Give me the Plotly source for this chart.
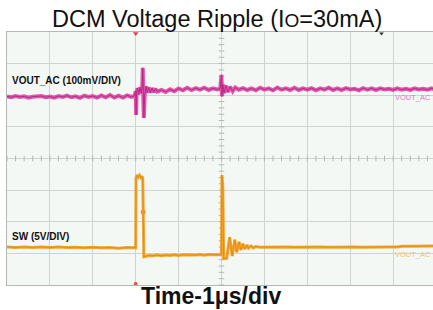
import numpy as np
import plotly.graph_objects as go

# ---------------- data ----------------
# time in microseconds (0 = trigger), VOUT ripple in mV (AC coupled)
VOUT_T = [-3.0, -2.9, -2.8, -2.7, -2.6, -2.5, -2.4, -2.3, -2.2, -2.1,
          -2.0, -1.9, -1.8, -1.7, -1.6, -1.5, -1.4, -1.3, -1.2, -1.1,
          -1.0, -0.9, -0.8, -0.7, -0.6, -0.5, -0.4, -0.3, -0.2, -0.1, -0.03,
          0.0, 0.01, 0.02, 0.04, 0.07, 0.10, 0.13, 0.155, 0.165, 0.18,
          0.19, 0.21, 0.24, 0.27, 0.30, 0.34, 0.38, 0.42, 0.46, 0.50,
          0.6, 0.7, 0.8, 0.9, 1.0, 1.1, 1.2, 1.3, 1.4, 1.5, 1.6, 1.7, 1.8, 1.9,
          1.97, 2.0, 2.01, 2.03, 2.06, 2.1, 2.15, 2.2, 2.26, 2.32,
          2.4, 2.5, 2.6, 2.7, 2.8, 2.9, 3.0, 3.1, 3.2, 3.3, 3.4, 3.5, 3.6,
          3.7, 3.8, 3.9, 4.0, 4.1, 4.2, 4.3, 4.4, 4.5, 4.6, 4.7, 4.8, 4.9,
          5.0, 5.1, 5.2, 5.3, 5.4, 5.5, 5.6, 5.7, 5.8, 5.9, 6.0, 6.1, 6.2,
          6.3, 6.4, 6.5, 6.6, 6.7, 6.8, 6.9, 6.95]
VOUT_MV = [2, -1, 3, 0, 2, -2, 1, 1, 3, -1,
           1, -2, 3, 0, 4, -1, 2, -3, 4, 0,
           3, -2, 5, -1, 6, -2, 4, -2, 5, 0, 3,
           18, -57, 10, 28, 8, 30, 12, 38, 92, -20,
           -66, 8, 34, 14, 30, 14, 28, 15, 26, 17,
           22, 16, 24, 18, 27, 21, 29, 22, 28, 23, 29, 22, 27, 24,
           26, 70, 2, 40, 12, 36, 16, 32, 18, 30,
           23, 28, 22, 27, 21, 29, 23, 27, 21, 30, 23, 27, 22,
           29, 22, 27, 23, 28, 21, 27, 23, 29, 22, 27, 22, 28,
           24, 26, 21, 28, 23, 27, 22, 27, 24, 26, 22, 27, 23,
           26, 22, 27, 24, 26, 23, 27, 25]

# switch node voltage in volts
SW_T = [-3.0, -2.8, -2.6, -2.4, -2.2, -2.0, -1.8, -1.6, -1.4, -1.2,
        -1.0, -0.8, -0.6, -0.4, -0.2, -0.02,
        0.0, 0.008, 0.03, 0.06, 0.09, 0.12, 0.15, 0.165, 0.172, 0.18, 0.19,
        0.3, 0.4, 0.5, 0.6, 0.7, 0.8, 0.9, 1.0, 1.1, 1.2, 1.3, 1.4, 1.5,
        1.6, 1.7, 1.8, 1.9, 1.98,
        2.0, 2.01, 2.03, 2.05, 2.12, 2.19, 2.25, 2.31, 2.355, 2.41, 2.45,
        2.5, 2.54, 2.595, 2.63, 2.69, 2.74, 2.8,
        2.9, 3.1, 3.3, 3.5, 3.7, 3.9, 4.1, 4.3, 4.5, 4.7, 4.9, 5.1, 5.3,
        5.5, 5.7, 5.9, 6.1, 6.2, 6.4, 6.6, 6.8, 6.95]
SW_V = [1.45, 1.35, 1.45, 1.35, 1.45, 1.35, 1.45, 1.35, 1.4, 1.3,
        1.4, 1.3, 1.35, 1.25, 1.35, 1.3,
        1.3, 12.4, 12.8, 12.5, 12.8, 12.4, 12.6, 12.2, 7.0, 0.0, -0.1,
        0.1, 0.05, 0.15, 0.05, 0.15, 0.1, 0.2, 0.1, 0.2, 0.15, 0.2, 0.15, 0.25,
        0.15, 0.25, 0.2, 0.25, 0.2,
        0.3, 12.8, 11.0, -0.4, -0.35, 3.0, 0.0, 2.6, 0.6, 2.25, 0.95,
        1.95, 1.1, 1.75, 1.25, 1.6, 1.3, 1.5,
        1.4, 1.45, 1.4, 1.45, 1.4, 1.45, 1.4, 1.45, 1.4, 1.45, 1.4, 1.45, 1.4,
        1.45, 1.4, 1.45, 1.45, 1.55, 1.55, 1.6, 1.55, 1.6]
SW_DOT_T = [0.172]
SW_DOT_V = [6.96]

# channel settings
VOUT_SCALE = 100.0   # mV / div
VOUT_POS = 1.946     # div
SW_SCALE = 5.0       # V / div
SW_POS = -3.085      # div

T_LEFT = -3.0
T_RIGHT = 6.93
Y_DIVS = 4

vy = [VOUT_POS + v / VOUT_SCALE for v in VOUT_MV]
sy = [SW_POS + v / SW_SCALE for v in SW_V]
sdy = [SW_POS + v / SW_SCALE for v in SW_DOT_V]

fig = go.Figure()

# graticule minor ticks on centre lines
tick_x = np.arange(T_LEFT, T_RIGHT, 0.2)
fig.add_trace(go.Scatter(x=tick_x, y=np.zeros_like(tick_x), mode="markers",
                         marker=dict(symbol="line-ns", size=4,
                                     line=dict(width=1, color="#b4b8b4")),
                         hoverinfo="skip", showlegend=False))
tick_y = np.arange(-Y_DIVS, Y_DIVS + 0.01, 0.2)
fig.add_trace(go.Scatter(x=np.full_like(tick_y, 2.0), y=tick_y, mode="markers",
                         marker=dict(symbol="line-ew", size=4,
                                     line=dict(width=1, color="#b4b8b4")),
                         hoverinfo="skip", showlegend=False))

# traces
fig.add_trace(go.Scatter(x=VOUT_T, y=vy, mode="lines",
                         line=dict(color="#e456ae", width=4),
                         hoverinfo="skip", showlegend=False))
fig.add_trace(go.Scatter(x=VOUT_T, y=vy, mode="lines",
                         line=dict(color="#b52a84", width=1),
                         hoverinfo="skip", showlegend=False))
fig.add_trace(go.Scatter(x=SW_T, y=sy, mode="lines",
                         line=dict(color="#f2a530", width=3),
                         hoverinfo="skip", showlegend=False))
fig.add_trace(go.Scatter(x=SW_T, y=sy, mode="lines",
                         line=dict(color="#d98a14", width=0.8),
                         hoverinfo="skip", showlegend=False))
fig.add_trace(go.Scatter(x=SW_DOT_T, y=sdy, mode="markers",
                         marker=dict(color="#f0962a", size=5),
                         hoverinfo="skip", showlegend=False))

# scope UI markers (trigger position)
fig.add_trace(go.Scatter(x=[0.0], y=[Y_DIVS - 0.05], mode="markers",
                         marker=dict(symbol="triangle-down", color="#e0405a", size=5),
                         cliponaxis=False, hoverinfo="skip", showlegend=False))
fig.add_trace(go.Scatter(x=[0.0], y=[-Y_DIVS + 0.03], mode="markers",
                         marker=dict(symbol="circle", color="#e8503a", size=4),
                         cliponaxis=False, hoverinfo="skip", showlegend=False))
fig.add_trace(go.Scatter(x=[5.73], y=[Y_DIVS - 0.05], mode="markers",
                         marker=dict(symbol="triangle-down", color="#303030", size=4),
                         cliponaxis=False, hoverinfo="skip", showlegend=False))

FONT = "Liberation Sans, Arial, sans-serif"

annotations = [
    dict(text="DCM Voltage Ripple (I<span style='font-size:19px'>O</span>=30mA)",
         x=0.492, y=1.051, xref="paper", yref="paper", showarrow=False,
         xanchor="center", yanchor="middle",
         font=dict(family=FONT, size=23.5, color="#111111")),
    dict(text="<b>Time-1\u03bcs/div</b>",
         x=0.478, y=-0.042, xref="paper", yref="paper", showarrow=False,
         xanchor="center", yanchor="middle",
         font=dict(family=FONT, size=23, color="#111111")),
    dict(text="<b>VOUT_AC (100mV/DIV)</b>", x=T_LEFT + 0.08, y=(158.5 - 80.5) / 31.625,
         xref="x", yref="y", showarrow=False, xanchor="left", yanchor="middle",
         font=dict(family=FONT, size=10, color="#111111")),
    dict(text="<b>SW (5V/DIV)</b>", x=T_LEFT + 0.08, y=(158.5 - 236) / 31.625,
         xref="x", yref="y", showarrow=False, xanchor="left", yanchor="middle",
         font=dict(family=FONT, size=10, color="#111111")),
    dict(text="VOUT_AC", x=T_RIGHT, y=(158.5 - 97.5) / 31.625,
         xref="x", yref="y", showarrow=False, xanchor="right", yanchor="middle",
         font=dict(family=FONT, size=7.5, color="#e079bd")),
    dict(text="VOUT_AC", x=T_RIGHT, y=(158.5 - 254.5) / 31.625,
         xref="x", yref="y", showarrow=False, xanchor="right", yanchor="middle",
         font=dict(family=FONT, size=7.5, color="#f0c27a")),
]

fig.update_layout(
    width=433, height=310,
    margin=dict(l=7, r=0, t=32, b=25),
    paper_bgcolor="#ffffff",
    plot_bgcolor="#f4f8f4",
    font=dict(family=FONT),
    annotations=annotations,
    xaxis=dict(range=[T_LEFT, T_RIGHT], tick0=T_LEFT, dtick=1, showgrid=True,
               gridcolor="#d0d4d0", gridwidth=1, zeroline=False,
               showticklabels=False, ticks="", showline=True, mirror=True,
               linecolor="#b4b8b4", linewidth=1),
    yaxis=dict(range=[-Y_DIVS, Y_DIVS], tick0=-Y_DIVS, dtick=1, showgrid=True,
               gridcolor="#d0d4d0", gridwidth=1, zeroline=False,
               showticklabels=False, ticks="", showline=True, mirror=True,
               linecolor="#b4b8b4", linewidth=1),
)

fig.write_html("out.html", config={"displayModeBar": False},
               post_script="document.body.style.margin='0';document.body.style.overflow='hidden';")
